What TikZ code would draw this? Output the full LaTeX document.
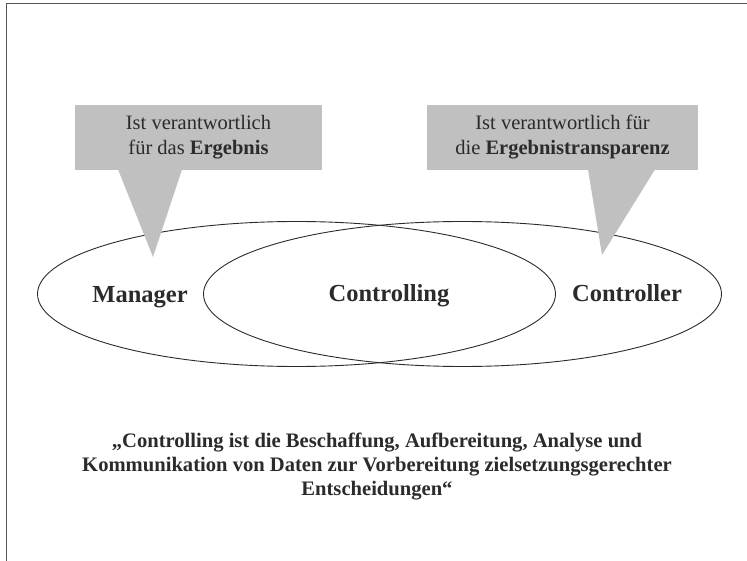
\documentclass[tikz,border=0pt]{standalone}
\usepackage{fontspec}
\setmainfont{Liberation Serif}
\usetikzlibrary{shapes.geometric}
\definecolor{ink}{HTML}{2B2B2B}
\definecolor{callgray}{HTML}{C0C0C0}
\begin{document}
\begin{tikzpicture}[x=1pt,y=-1pt,
  frameline/.style={draw=ink!80, line width=1pt},
  oval/.style={ellipse, draw=ink, line width=0.9pt, inner sep=0pt,
               minimum width=518pt, minimum height=145pt},
  ovallabel/.style={font=\fontsize{24.5}{29}\selectfont\bfseries, text=ink, anchor=base},
  callbox/.style={rectangle, fill=callgray, inner sep=0pt, align=center,
                  minimum height=65pt, text=ink,
                  font=\fontsize{20.5}{25}\selectfont},
  callpointer/.style={fill=callgray, draw=none},
  quote/.style={align=center, text=ink,
                font=\fontsize{20.6}{24}\selectfont\bfseries}
]
% page extent
\useasboundingbox (0,0) rectangle (747,561);

% outer frame (top and left rules)
\coordinate (fbl) at (6,561);
\coordinate (ftl) at (6,4);
\coordinate (ftr) at (747,4);
\draw[frameline] (fbl) -- (ftl) -- (ftr);

% the two overlapping ovals
\node[oval] (mgr) at (296.5,294) {};
\node[oval] (ctl) at (462.5,294) {};

% labels
\node[ovallabel] (lmgr) at (140,303) {Manager};
\node[ovallabel] (lcon) at (389,302) {Controlling};
\node[ovallabel] (lctr) at (627,302) {Controller};

% left callout
\node[callbox, minimum width=247pt] (cbl) at (198.5,137.5)
  {Ist verantwortlich\\für das \textbf{Ergebnis}};
\coordinate (pla) at (118,169.5);
\coordinate (plb) at (182,169.5);
\coordinate (plt) at (153,257);
\fill[callpointer] (pla) -- (plt) -- (plb) -- cycle;

% right callout
\node[callbox, minimum width=271pt] (cbr) at (562.5,137.5)
  {Ist verantwortlich für\\die \textbf{Ergebnistransparenz}};
\coordinate (pra) at (588,169.5);
\coordinate (prb) at (655,169.5);
\coordinate (prt) at (602,255);
\fill[callpointer] (pra) -- (prt) -- (prb) -- cycle;

% definition
\node[quote] (def) at (377,467)
  {„Controlling ist die Beschaffung, Aufbereitung, Analyse und\\
   Kommunikation von Daten zur Vorbereitung zielsetzungsgerechter\\
   Entscheidungen“};
\end{tikzpicture}
\end{document}
